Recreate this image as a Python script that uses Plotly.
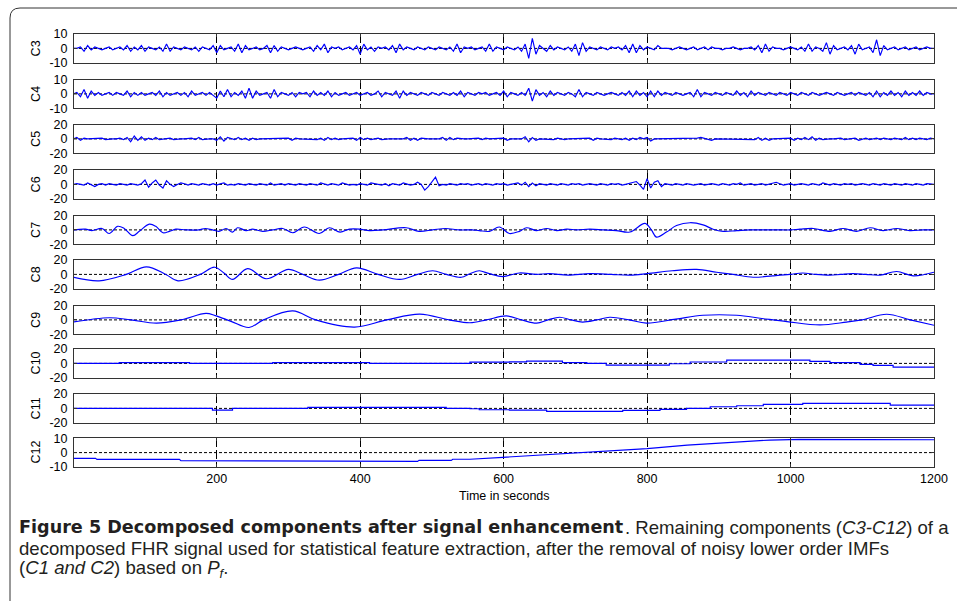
import plotly.graph_objects as go

# ---------------- data ----------------
T5 = list(range(0, 1201, 5))  # 5-second sampling grid for the fast components

C3 = [0, 0, 1, -2, 2, -1, 1, 0, -1, 0, 1, -1, 0, 1, -1, 2, -2, 1, -1, 2,
      -2, 1, 0, -1, 1, -2, 3, -2, 1, 0, -1, 1, 0, -1, 1, -2, 1, 0, -1, 2,
      -3, 2, -1, 0, 1, -2, 3, -3, 2, -1, 0, 1, -1, 0, 2, -3, 2, -2, 1, 0,
      -1, 0, 1, 0, -1, 0, 1, -2, 2, -1, 3, -3, 1, 0, 1, -1, 0, 1, -1, 2,
      -4, 3, -1, 1, -2, 1, 0, 1, -1, 2, -3, 3, -1, 1, 0, -1, 1, 0, -1, 1,
      0, -1, 1, 0, -1, 1, -2, 3, -3, 1, 0, 1, -1, 0, 1, -2, 3, -2, 1, 0,
      -1, 1, 0, -1, 1, -2, 3, -7, 7, -4, 2, 0, -2, 2, -1, 1, 0, -1, 1, -2,
      3, -5, 4, -2, 1, 0, -1, 1, 0, -1, 1, 0, 1, -1, 2, -3, 3, -3, 2, -1,
      1, 0, -1, 2, 0, 0, 0, -1, 0, 1, 0, -1, 0, 1, -1, 0, 1, -1, 1, 0,
      0, -1, 0, 0, 1, 0, -1, 0, 0, 1, -1, 2, -3, 3, -2, 1, 0, 0, -1, 0,
      1, 0, -1, 1, -2, 3, -2, 1, 0, -2, 4, -4, 2, -1, 0, 1, -1, 2, -4, 3,
      -1, 0, 1, -3, 6, -5, 2, -1, 0, 1, -1, 0, 1, -1, 0, 1, -1, 0, 1, 0,
      0]

C4 = [0, 1, -2, 3, -3, 2, -1, 1, -1, 0, 1, -1, 1, 0, -1, 2, -2, 1, -1, 1,
      -1, 0, 1, -1, 2, -2, 1, -1, 0, 1, -1, 1, -2, 2, -1, 0, 1, -1, 1, -1,
      -3, 2, -2, 3, -2, 1, -1, 2, -3, 4, -3, 2, -1, 0, 1, -3, 3, -2, 1, 0,
      -1, 1, -2, 1, 0, 1, -2, 2, -1, 1, -1, 2, -2, 1, -1, 0, 1, -1, 0, 1,
      -1, 0, 1, -1, 0, 2, -2, 1, 0, -1, 2, -3, 2, -1, 1, 0, -1, 1, 0, -1,
      1, 0, -1, 1, 0, -1, 1, -1, 2, -2, 1, 0, -1, 1, 0, 1, -1, 0, 1, -1,
      2, -2, 1, 0, -1, 1, -1, 4, -5, 3, -1, 1, -2, 2, -1, 1, 0, -1, 1, 0,
      -2, 3, -2, 1, 0, -1, 1, 0, -1, 0, 1, 0, -1, 1, -1, 2, -2, 2, -1, 1,
      -2, 2, -2, 2, -1, 1, 0, -1, 1, 0, -1, 0, 1, -2, 3, -2, 1, 0, -1, 1,
      0, -1, 1, 0, -1, 2, -1, 1, -2, 2, -1, 1, 0, -1, 1, 0, -1, 1, 0, -1,
      1, 0, -1, 1, 0, -1, 1, 0, -1, 0, 1, 0, -1, 1, 0, -1, 0, 1, -1, 1,
      0, -1, 1, -2, 2, -2, 1, -1, 2, -1, 1, -2, 2, -1, 1, -1, 2, -1, 1, 0,
      0]

C5 = [0, 2, -2, 1, 0, 0, 0, 0, 1, -1, 0, 0, 0, 1, -1, 2, -4, 4, -2, 3,
      -2, 1, -1, 2, -1, 0, 0, 1, -1, 0, 0, 0, 0, 1, -1, 2, -1, 0, 0, 0,
      -2, 3, -3, 2, 0, -1, 2, -1, 1, -2, 1, -1, 0, 0, 0, 0, 0, 0, 0, 0,
      1, -2, 1, 0, 0, 0, 0, 0, -1, 1, -2, 2, -1, 1, -1, 0, 0, 0, 1, -2,
      2, -1, 1, -1, 0, 1, -1, 0, 0, 0, 0, 0, 0, 2, -2, 1, -2, 1, 0, 0,
      0, 0, 0, 2, -2, 2, -1, 1, 0, 0, 0, 0, 0, 1, -1, 1, 0, 0, 0, 0,
      1, -2, 0, 0, 0, 0, 3, -4, 2, -2, 0, 0, 0, 0, -1, 1, 0, -1, 0, 0,
      0, 0, 0, 0, 1, -2, 1, 0, 0, 0, -1, 1, 0, -1, 1, -2, 1, -1, 2, 0,
      2, -3, 0, 0, 0, 0, 0, 0, 0, 0, 0, 0, 0, 0, 1, 2, 1, -1, -2, 0,
      0, 0, 0, 0, 0, 0, 0, 0, 0, 0, -1, 2, -2, 1, -2, 0, 0, 0, 0, 0,
      1, -2, 1, -1, 2, -1, 3, -2, 1, -1, 0, 0, 0, 0, 1, -1, 0, 0, 1, -2,
      0, 1, -1, 0, 1, -1, 1, 0, -1, 1, 0, -1, 2, -1, 1, -1, 1, 0, -1, 1,
      0]

C6 = [0, 1, 0, -1, 2, 0, -3, 0, 1, -1, 1, 0, -1, 1, 0, -1, 1, 0, -1, 1,
      6, -4, 2, 6, -1, -5, 5, 0, -3, 0, 2, 1, -1, 1, 0, -1, 1, 0, -1, 1,
      -1, 1, 2, -1, 0, -1, 1, 0, -1, 1, 0, -1, 1, 0, -1, 2, -1, 0, 1, -1,
      1, 0, -1, 1, 0, -1, 1, 0, -1, 2, 0, -1, 1, 0, -1, 2, 1, -1, 0, -1,
      1, 0, -1, 2, 1, 0, -1, 1, -2, 1, 0, -1, 2, 1, -1, 0, 3, 0, -8, -3,
      4, 10, -2, 0, -1, 1, 0, -1, 1, 0, 1, -1, 0, 1, -1, 1, 0, -1, 1, 0,
      1, -1, 0, 1, 2, -1, 3, -3, 2, -2, 1, 0, -1, 1, 0, -1, 1, 0, -1, 1,
      0, 1, -1, 0, 1, 0, -1, 1, 0, -1, 1, 0, 1, -1, 0, 1, 2, 4, -1, -7,
      8, -5, 3, 5, -3, 1, 0, -1, 1, 0, -1, 1, 0, -1, 0, 1, -1, 0, 1, 0,
      -1, 1, 0, -1, 1, 0, 2, -1, 0, 1, -1, 0, 1, -1, 0, 1, 3, 1, -1, 0,
      1, -1, 0, 1, 0, -1, 1, 0, -1, 2, 0, -1, 1, 0, -1, 1, 0, 1, -1, 0,
      1, 0, -1, 1, 0, -1, 1, 0, -1, 1, 0, -1, 1, 0, -1, 1, 0, -1, 1, 0,
      0]

C7_t = [0, 17, 26, 40, 50, 62, 71, 83, 92, 106, 115, 125, 134, 143, 157, 175, 184, 194, 203, 213,
        222, 229, 241, 250, 264, 278, 292, 306, 322, 343, 357, 372, 385, 399, 413, 432, 464, 482, 501, 519,
        538, 556, 566, 580, 594, 608, 622, 632, 646, 660, 674, 688, 702, 720, 739, 757, 776, 797, 806, 813,
        827, 841, 860, 878, 892, 906, 925, 943, 981, 1000, 1013, 1032, 1055, 1073, 1092, 1111, 1129, 1148, 1166, 1185,
        1200]
C7_v = [0, 1, -1, 2, -5, 5, 2, -8, -2, 8, 5, -4, -2, 1, 0, 0, 2, 0, -2, 2,
        -3, 3, -1, 1, -2, 0, 2, -4, 4, -5, 3, -3, 1, 1, -1, 0, 3, -2, 0, 2,
        0, 0, -1, -2, 4, -5, -2, 3, -1, 2, -1, 1, 0, 1, 0, -1, -3, 9, 0, -10,
        -3, 6, 10, 7, 1, -2, -1, 0, 0, 0, 1, 2, -2, 2, -2, 3, -1, 2, -1, 0,
        0]

C8_t = [0, 36, 74, 102, 129, 146, 177, 197, 210, 222, 243, 269, 300, 320, 343, 370, 395, 425, 455, 480,
        501, 520, 541, 553, 566, 580, 599, 622, 645, 664, 690, 720, 750, 776, 800, 835, 869, 897, 920, 948,
        975, 999, 1017, 1035, 1055, 1070, 1087, 1105, 1125, 1148, 1171, 1200]
C8_v = [-4, -9, 0, 10.5, 0, -9, 0, 10, 2, -7, 8, -6, 7, 0, -8, 0, 9, 0, -7, 0,
        5, 0, -4, 1, 5, 1, -3, 2, 0, 1, -1, 1, 0, -1, 1, 5, 7, 3, 0, -4,
        -2, 0, 2, 0, -1, 0, 1, 0, -1, 4, -2, 3]

C9_t = [0, 50, 80, 116, 150, 185, 198, 220, 245, 265, 306, 338, 392, 437, 483, 524, 553, 576, 604, 625,
        646, 662, 678, 694, 710, 730, 748, 775, 799, 840, 878, 925, 960, 995, 1041, 1078, 1100, 1134, 1167, 1200]
C9_v = [-3, 3, 0, -4.5, 0, 9, 6, -2, -10.5, 0, 12.5, 0, -10, 0, 8, 0, -4, 0, 5.5, 0,
        -4.5, 0, 3.7, 0, -3, 0, 3.7, 0, -4.5, 1, 6.4, 6.4, 2, -2.3, -6.9, -3, 0, 7.8, 0, -7.4]

C10_t = [1, 64, 162, 278, 413, 553, 608, 632, 682, 716, 743, 831, 860, 911, 1027, 1055, 1097, 1115, 1143, 1200]
C10_v = [0, 1, 0, 1, 0, 1.8, 2.2, 3.2, 1, 0, -2.3, -0.5, 2, 4.6, 2.8, 1, -1.4, -2.8, -5.1, -5.1]

C11_t = [1, 194, 222, 327, 520, 553, 566, 608, 660, 766, 818, 855, 888, 925, 962, 1017, 1139, 1200]
C11_v = [0, -2.3, 0, 1.4, 0, -0.5, -1.9, -2.3, -4.1, -2.8, -1.4, 0, 2.3, 3.7, 5.5, 6.9, 4.6, 4.6]

C12_t = [1, 31, 33, 148, 150, 239, 241, 480, 482, 527, 529, 553, 599, 692, 739, 800, 856, 911, 971, 1013, 1200]
C12_v = [-4, -4, -4.7, -4.7, -5.6, -5.6, -6.1, -6.1, -5.4, -5.4, -4.6, -4.6, -3.3, -0.5, 0.7, 2.8, 5.2, 6.8, 8.7, 9.2, 8.9]

NAMES = ["C3", "C4", "C5", "C6", "C7", "C8", "C9", "C10", "C11", "C12"]
LIMITS = [10, 10, 20, 20, 20, 20, 20, 20, 20, 10]
X_TICKS = [200, 400, 600, 800, 1000, 1200]

SERIES = [
    (T5, C3, "linear"), (T5, C4, "linear"), (T5, C5, "linear"), (T5, C6, "linear"),
    (C7_t, C7_v, "spline"), (C8_t, C8_v, "spline"), (C9_t, C9_v, "spline"),
    (C10_t, C10_v, "hv"), (C11_t, C11_v, "hv"), (C12_t, C12_v, "linear"),
]

# ---------------- layout geometry (pixels) ----------------
W, H = 957, 601
L, R, TOP, BOT = 74, 934, 34, 467
PW, PH = R - L, BOT - TOP


def px(x):
    return (x - L) / PW


def py(y):
    return 1 - (y - TOP) / PH


PANEL_TOPS = [34, 79.5, 124.5, 170, 215.5, 260, 305.5, 349, 394, 438.2]
PANEL_H = 28.8

TICK_FONT = dict(family="Liberation Sans, Arial, sans-serif", size=12.5, color="#000")
AXCOL = "#333333"

fig = go.Figure()
layout = {}
for i, (name, lim, (t, v, shape)) in enumerate(zip(NAMES, LIMITS, SERIES)):
    s = "" if i == 0 else str(i + 1)
    fig.add_trace(go.Scatter(x=[1, 1200], y=[0, 0], xaxis="x" + s, yaxis="y" + s, mode="lines",
                             line=dict(color="#000", width=1, dash="3px,2px"),
                             hoverinfo="skip", showlegend=False))
    line = dict(color="#0000ff", width=1.15, shape=shape)
    if shape == "spline":
        line["smoothing"] = 1.0
    fig.add_trace(go.Scatter(x=t, y=v, xaxis="x" + s, yaxis="y" + s, mode="lines",
                             line=line, name=name, showlegend=False))
    top = PANEL_TOPS[i]
    layout["xaxis" + s] = dict(
        domain=[0, 1], anchor="y" + s, range=[1, 1200], tickvals=X_TICKS,
        showticklabels=(i == 9), tickfont=TICK_FONT,
        showgrid=True, gridcolor="#000", gridwidth=1, griddash="9px,3px",
        showline=True, linecolor=AXCOL, linewidth=1, mirror="ticks",
        ticks="inside", ticklen=3, tickcolor=AXCOL, zeroline=False, automargin=False,
    )
    layout["yaxis" + s] = dict(
        domain=[py(top + PANEL_H), py(top)], anchor="x" + s, range=[-lim, lim],
        tickvals=[-lim, 0, lim], ticktext=[str(-lim), "0", str(lim)], tickfont=TICK_FONT,
        showgrid=False, zeroline=False, showline=True, linecolor=AXCOL, linewidth=1,
        mirror="ticks", ticks="inside", ticklen=3, tickcolor=AXCOL, ticklabelstandoff=3,
        automargin=False,
    )

annotations = []
for i, name in enumerate(NAMES):
    annotations.append(dict(
        x=px(36), y=py(PANEL_TOPS[i] + PANEL_H / 2), xref="paper", yref="paper",
        text=name, textangle=-90, showarrow=False, xanchor="center", yanchor="middle",
        font=TICK_FONT,
    ))
annotations.append(dict(
    x=px(504), y=py(496), xref="paper", yref="paper", text="Time in seconds",
    showarrow=False, xanchor="center", yanchor="middle", font=TICK_FONT,
))

CAP_COLOR = "#231f20"
REG = dict(family="Liberation Sans, Arial, sans-serif", size=18.6, color=CAP_COLOR)
BOLD = dict(family="DejaVu Sans, sans-serif", size=17.6, color=CAP_COLOR)

# caption pieces: (text, x pixel, anchor, y pixel, font)
CAPTION = [
    ("<b>Figure 5 Decomposed components after signal enhancement</b>", 17, "left", 527, BOLD),
    (". Remaining components (<i>C3-C12</i>) of a", 951, "right", 527, REG),
    ("decomposed FHR signal used for statistical feature extraction, after the removal of noisy lower order IMFs",
     17, "left", 548, REG),
    ("(<i>C1 and C2</i>) based on <i>P<sub>f</sub></i>.", 17, "left", 569, REG),
]
for text, xx, anc, yy, fnt in CAPTION:
    annotations.append(dict(
        x=px(xx), y=py(yy), xref="paper", yref="paper", text=text, showarrow=False,
        xanchor=anc, yanchor="middle", align="left", font=fnt,
    ))

frame_path = (f"M {px(957)} {py(8)} L {px(20)} {py(8)} "
              f"Q {px(10)} {py(8)} {px(10)} {py(18)} L {px(10)} {py(601)}")

fig.update_layout(
    width=W, height=H, margin=dict(l=L, r=W - R, t=TOP, b=H - BOT, pad=0),
    paper_bgcolor="#fff", plot_bgcolor="#fff", showlegend=False,
    annotations=annotations,
    shapes=[dict(type="path", path=frame_path, xref="paper", yref="paper",
                 line=dict(color="#333", width=1))],
    **layout,
)

fig.write_html(
    "out.html",
    config={"displayModeBar": False},
    post_script="document.body.style.margin='0px';document.body.style.overflow='hidden';",
)
